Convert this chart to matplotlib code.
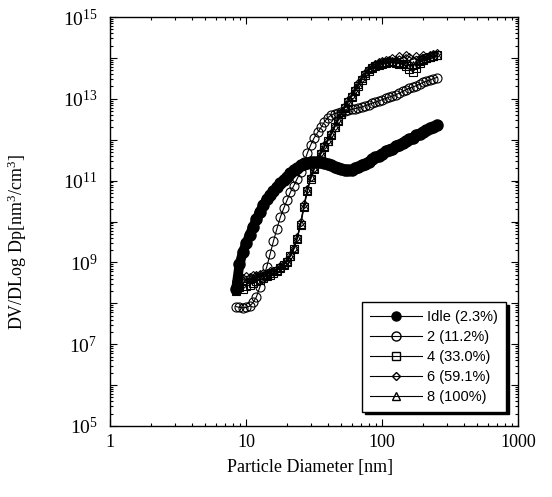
import numpy as np
import matplotlib
matplotlib.use('Agg')
import matplotlib.pyplot as plt
from matplotlib.lines import Line2D
from matplotlib.ticker import LogLocator, FuncFormatter, NullFormatter

plt.rcParams['font.family'] = 'Liberation Serif'
plt.rcParams['mathtext.fontset'] = 'custom'
plt.rcParams['mathtext.rm'] = 'Liberation Serif'
plt.rcParams['mathtext.it'] = 'Liberation Serif:italic'

# particle diameter channels [nm]
diam = [8.45, 8.95, 9.48, 10.05, 10.64, 11.27, 11.94, 12.65, 13.40, 14.19,
        15.03, 15.92, 16.87, 17.86, 18.92, 20.04, 21.23, 22.49, 23.82, 25.23,
        26.73, 28.31, 29.99, 31.77, 33.65, 35.65, 37.76, 39.99, 42.36, 44.87,
        47.53, 50.35, 53.33, 56.49, 59.84, 63.39, 67.14, 71.12, 75.34, 79.80,
        84.53, 89.54, 94.84, 100.5, 106.4, 112.7, 119.4, 126.5, 134.0, 141.9,
        150.3, 159.2, 168.7, 178.6, 189.2, 200.4, 212.3, 224.9, 238.2, 252.4]

# log10 of DV/DLogDp for each mode
idle_exp = [8.35, 8.95, 9.25, 9.47, 9.67, 9.87, 10.05, 10.24, 10.40, 10.54,
            10.65, 10.75, 10.84, 10.93, 11.02, 11.10, 11.18, 11.25, 11.31, 11.37,
            11.41, 11.43, 11.45, 11.46, 11.46, 11.45, 11.43, 11.40, 11.37, 11.34,
            11.31, 11.29, 11.27, 11.26, 11.27, 11.30, 11.33, 11.37, 11.41, 11.46,
            11.52, 11.57, 11.60, 11.66, 11.72, 11.74, 11.78, 11.85, 11.88, 11.91,
            11.97, 12.02, 12.05, 12.11, 12.15, 12.18, 12.24, 12.28, 12.31, 12.35]

m2_exp = [7.92, 7.90, 7.89, 7.90, 7.93, 8.02, 8.16, 8.40, 8.64, 8.88,
          9.20, 9.52, 9.82, 10.10, 10.32, 10.52, 10.72, 10.88, 11.05, 11.22,
          11.45, 11.68, 11.88, 12.05, 12.18, 12.30, 12.44, 12.54, 12.60, 12.64,
          12.66, 12.68, 12.70, 12.72, 12.74, 12.76, 12.78, 12.80, 12.83, 12.86,
          12.89, 12.92, 12.95, 12.98, 13.01, 13.04, 13.07, 13.10, 13.14, 13.18,
          13.22, 13.26, 13.29, 13.32, 13.36, 13.40, 13.43, 13.46, 13.49, 13.52]

m4_exp = [8.30, 8.40, 8.35, 8.42, 8.45, 8.50, 8.55, 8.58, 8.62, 8.66,
          8.70, 8.74, 8.80, 8.86, 8.93, 9.02, 9.15, 9.32, 9.58, 9.92,
          10.35, 10.75, 11.05, 11.28, 11.48, 11.66, 11.82, 11.97, 12.12, 12.30,
          12.46, 12.62, 12.78, 12.92, 13.05, 13.18, 13.32, 13.46, 13.58, 13.68,
          13.75, 13.80, 13.83, 13.86, 13.88, 13.89, 13.90, 13.88, 13.86, 13.84,
          13.80, 13.72, 13.66, 13.75, 13.88, 13.95, 14.00, 14.02, 14.05, 14.06]

m6_exp = [8.55, 8.60, 8.62, 8.66, 8.64, 8.70, 8.68, 8.72, 8.75, 8.74,
          8.78, 8.80, 8.84, 8.90, 8.97, 9.06, 9.18, 9.36, 9.62, 9.98,
          10.42, 10.80, 11.10, 11.32, 11.52, 11.70, 11.86, 12.00, 12.16, 12.34,
          12.50, 12.66, 12.82, 12.96, 13.10, 13.24, 13.38, 13.52, 13.64, 13.74,
          13.80, 13.86, 13.90, 13.92, 13.96, 13.94, 14.00, 13.96, 14.05, 13.98,
          14.08, 14.02, 13.96, 14.04, 14.00, 14.06, 14.02, 14.08, 14.10, 14.12]

m8_exp = [8.45, 8.52, 8.58, 8.55, 8.60, 8.63, 8.66, 8.68, 8.70, 8.72,
          8.75, 8.78, 8.82, 8.88, 8.95, 9.04, 9.16, 9.34, 9.60, 9.95,
          10.38, 10.78, 11.08, 11.30, 11.50, 11.68, 11.84, 11.98, 12.14, 12.32,
          12.48, 12.64, 12.80, 12.94, 13.08, 13.22, 13.36, 13.50, 13.62, 13.72,
          13.78, 13.84, 13.87, 13.89, 13.91, 13.92, 13.92, 13.91, 13.90, 13.88,
          13.86, 13.84, 13.82, 13.86, 13.92, 13.97, 14.00, 14.03, 14.05, 14.07]

labels = ['Idle (2.3%)', '2 (11.2%)', '4 (33.0%)', '6 (59.1%)', '8 (100%)']

d = np.array(diam)

fig = plt.figure(figsize=(5.52, 4.97), dpi=100)
ax = fig.add_axes([110/552, 71/497, 408/552, 409/497])

# idle: dense filled circles merge into a thick band
ax.plot(d, 10**np.array(idle_exp), '-', color='black', lw=7, solid_capstyle='round',
        marker='o', ms=8, mfc='black', mec='black', zorder=2)

opts = dict(color='black', lw=0.8, mfc='none', mec='black', mew=0.8, zorder=3)
ax.plot(d, 10**np.array(m2_exp), marker='o', ms=6.5, **opts)
ax.plot(d, 10**np.array(m4_exp), marker='s', ms=6, **opts)
ax.plot(d, 10**np.array(m6_exp), marker='D', ms=4.5, **opts)
ax.plot(d, 10**np.array(m8_exp), marker='^', ms=6, **opts)

ax.set_xscale('log')
ax.set_yscale('log')
ax.set_xlim(1, 1000)
ax.set_ylim(1e5, 1e15)

ax.xaxis.set_major_locator(LogLocator(base=10, numticks=10))
ax.xaxis.set_minor_locator(LogLocator(base=10, subs=np.arange(2, 10), numticks=50))
ax.xaxis.set_major_formatter(FuncFormatter(lambda v, p: '%g' % v))
ax.xaxis.set_minor_formatter(NullFormatter())

def ylab(v, p):
    e = int(round(np.log10(v)))
    return r'$10^{%d}$' % e if e % 2 == 1 else ''

ax.yaxis.set_major_locator(LogLocator(base=10, numticks=20))
ax.yaxis.set_minor_locator(LogLocator(base=10, subs=np.arange(2, 10), numticks=200))
ax.yaxis.set_major_formatter(FuncFormatter(ylab))
ax.yaxis.set_minor_formatter(NullFormatter())

ax.tick_params(which='both', direction='in', top=True, right=True, width=0.8)
ax.tick_params(which='major', length=5)
ax.tick_params(which='minor', length=2.5)
ax.tick_params(axis='x', which='major', labelsize=13, pad=6)
ax.tick_params(axis='y', which='major', labelsize=14, pad=9)
for s in ax.spines.values():
    s.set_linewidth(1.0)

ax.set_xlabel('Particle Diameter [nm]', fontsize=13)
ax.set_ylabel(r'DV/DLog Dp[nm$^3$/cm$^3$]', fontsize=13)
ax.xaxis.set_label_coords(0.49, -0.08)
ax.yaxis.set_label_coords(-0.198, 0.45)

handles = [
    Line2D([], [], color='black', lw=0.8, marker='o', ms=6.5, mfc='black', mec='black'),
    Line2D([], [], color='black', lw=0.8, marker='o', ms=6.5, mfc='none', mec='black'),
    Line2D([], [], color='black', lw=0.8, marker='s', ms=6, mfc='none', mec='black'),
    Line2D([], [], color='black', lw=0.8, marker='D', ms=4.5, mfc='none', mec='black'),
    Line2D([], [], color='black', lw=0.8, marker='^', ms=6, mfc='none', mec='black'),
]
leg = ax.legend(handles, labels, loc='lower right', bbox_to_anchor=(0.97, 0.035),
                borderaxespad=0, fancybox=False, edgecolor='black',
                shadow={'color': 'black', 'alpha': 1.0},
                prop={'family': 'Liberation Sans', 'size': 10.5},
                handlelength=3.6, handletextpad=0.3, labelspacing=0.4,
                borderpad=0.55)
leg.get_frame().set_linewidth(1.0)

fig.savefig('out.png', dpi=100)
